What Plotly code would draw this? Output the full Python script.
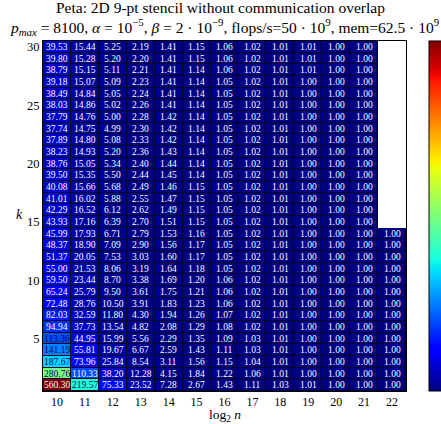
import numpy as np
import plotly.graph_objects as go

# log2 n columns and k rows
log2n = list(range(10, 23))
k_vals = list(range(1, 31))

# Speedup values, one list per log2 n column, ordered k = 30 down to k = 1
c10 = [39.53, 39.80, 38.79, 39.18, 38.49, 38.03, 37.79, 37.74, 37.89, 38.23,
       38.76, 39.50, 40.08, 41.01, 42.29, 43.93, 45.99, 48.37, 51.37, 55.00,
       59.50, 65.24, 72.48, 82.03, 94.94, 113.36, 141.19, 187.67, 280.76, 560.30]
c11 = [15.44, 15.28, 15.15, 15.07, 14.84, 14.86, 14.76, 14.75, 14.80, 14.93,
       15.05, 15.35, 15.66, 16.02, 16.52, 17.16, 17.93, 18.90, 20.05, 21.53,
       23.44, 25.79, 28.76, 32.59, 37.73, 44.95, 55.81, 73.96, 110.33, 219.57]
c12 = [5.25, 5.20, 5.11, 5.09, 5.05, 5.02, 5.00, 4.99, 5.08, 5.20,
       5.34, 5.50, 5.68, 5.88, 6.12, 6.39, 6.71, 7.09, 7.53, 8.06,
       8.70, 9.50, 10.50, 11.80, 13.54, 15.99, 19.67, 25.84, 38.20, 75.33]
c13 = [2.19, 2.20, 2.21, 2.23, 2.24, 2.26, 2.28, 2.30, 2.33, 2.36,
       2.40, 2.44, 2.49, 2.55, 2.62, 2.70, 2.79, 2.90, 3.03, 3.19,
       3.38, 3.61, 3.91, 4.30, 4.82, 5.56, 6.67, 8.54, 12.28, 23.52]
c14 = [1.41, 1.41, 1.41, 1.41, 1.41, 1.41, 1.42, 1.42, 1.42, 1.43,
       1.44, 1.45, 1.46, 1.47, 1.49, 1.51, 1.53, 1.56, 1.60, 1.64,
       1.69, 1.75, 1.83, 1.94, 2.08, 2.29, 2.59, 3.11, 4.15, 7.28]
c15 = [1.15, 1.15, 1.14, 1.14, 1.14, 1.14, 1.14, 1.14, 1.14, 1.14,
       1.14, 1.14, 1.15, 1.15, 1.15, 1.15, 1.16, 1.17, 1.17, 1.18,
       1.20, 1.21, 1.23, 1.26, 1.29, 1.35, 1.43, 1.56, 1.84, 2.67]
c16 = [1.06, 1.06, 1.06, 1.05, 1.05, 1.05, 1.05, 1.05, 1.05, 1.05,
       1.05, 1.05, 1.05, 1.05, 1.05, 1.05, 1.05, 1.05, 1.05, 1.05,
       1.06, 1.06, 1.06, 1.07, 1.08, 1.09, 1.11, 1.15, 1.22, 1.43]
c17 = [1.02, 1.02, 1.02, 1.02, 1.02, 1.02, 1.02, 1.02, 1.02, 1.02,
       1.02, 1.02, 1.02, 1.02, 1.02, 1.02, 1.02, 1.02, 1.02, 1.02,
       1.02, 1.02, 1.02, 1.02, 1.02, 1.03, 1.03, 1.04, 1.06, 1.11]
c18 = [1.01, 1.01, 1.01, 1.01, 1.01, 1.01, 1.01, 1.01, 1.01, 1.01,
       1.01, 1.01, 1.01, 1.01, 1.01, 1.01, 1.01, 1.01, 1.01, 1.01,
       1.01, 1.01, 1.01, 1.01, 1.01, 1.01, 1.01, 1.01, 1.01, 1.03]
c19 = [1.01, 1.01, 1.01, 1.00, 1.00, 1.00, 1.00, 1.00, 1.00, 1.00,
       1.00, 1.00, 1.00, 1.00, 1.00, 1.00, 1.00, 1.00, 1.00, 1.00,
       1.00, 1.00, 1.00, 1.00, 1.00, 1.00, 1.00, 1.00, 1.00, 1.01]
c20 = [1.00] * 30
c21 = [1.00] * 30
c22 = [None] * 16 + [1.00] * 14

columns = [c10, c11, c12, c13, c14, c15, c16, c17, c18, c19, c20, c21, c22]

# z[row k-1][col]
z = np.array([[np.nan if v is None else v for v in col[::-1]] for col in columns],
             dtype=float).T
zmin = np.nanmin(z)
zmax = np.nanmax(z)

# matplotlib-style jet colormap
def jet(t):
    r = np.interp(t, [0, 0.35, 0.66, 0.89, 1], [0, 0, 1, 1, 0.5])
    g = np.interp(t, [0, 0.125, 0.375, 0.64, 0.91, 1], [0, 0, 1, 1, 0, 0])
    b = np.interp(t, [0, 0.11, 0.34, 0.65, 1], [0.5, 1, 1, 0, 0])
    return r, g, b

stops = np.linspace(0, 1, 65)
jet_scale = []
for s in stops:
    r, g, b = jet(s)
    jet_scale.append([float(s), f"rgb({int(round(r*255))},{int(round(g*255))},{int(round(b*255))})"])

# plot area geometry in pixels
W, H = 441, 424
ML, MR, MT, MB = 43, 35, 41, 33
PW, PH = W - ML - MR, H - MT - MB

fig = go.Figure()

# dark underlay showing through the cell gaps as grid lines
mask = np.where(np.isnan(z), np.nan, 1.0)
fig.add_trace(go.Heatmap(
    x=log2n, y=k_vals, z=mask,
    colorscale=[[0, "#05052a"], [1, "#05052a"]], zmin=0, zmax=2,
    showscale=False, hoverinfo="skip",
))

fig.add_trace(go.Heatmap(
    x=log2n, y=k_vals, z=z,
    colorscale=jet_scale, zmin=zmin, zmax=zmax,
    xgap=1, ygap=1,
    colorbar=dict(
        x=(429 - ML) / PW, xanchor="left", xpad=0,
        y=0.5, yanchor="middle", len=1.0, lenmode="fraction", ypad=0,
        thickness=18, outlinewidth=1, outlinecolor="black",
        ticks="", showticklabels=False,
    ),
))

# value labels in each cell
annotations = []
for i, k in enumerate(k_vals):
    for j, n in enumerate(log2n):
        v = z[i, j]
        if np.isnan(v):
            continue
        r, g, b = jet((v - zmin) / (zmax - zmin))
        lum = 0.299 * r + 0.587 * g + 0.114 * b
        color = "#000060" if lum > 0.285 else "white"
        annotations.append(dict(
            x=n, y=k, xref="x", yref="y", text=f"{v:.2f}", showarrow=False,
            font=dict(family="Liberation Serif", size=9.5, color=color),
        ))

# y-axis label, upright
annotations.append(dict(
    x=-(ML - 25) / PW, y=(391 - 214) / PH, xref="paper", yref="paper",
    xanchor="right", yanchor="middle", text="<i>k</i>",
    showarrow=False, font=dict(family="Liberation Serif", size=14, color="black"),
))

# x-axis label
annotations.append(dict(
    x=0.5, y=-(406 - 391) / PH, xref="paper", yref="paper",
    xanchor="center", yanchor="top", text="log<sub>2</sub> <i>n</i>",
    showarrow=False, borderpad=0,
    font=dict(family="Liberation Serif", size=13.5, color="black"),
))

# two-line title
annotations.append(dict(
    x=0.5, xref="paper", xanchor="center", xshift=(W / 2 - (ML + PW / 2)),
    y=1 + (MT - 8) / PH, yref="paper", yanchor="middle",
    text="Peta: 2D 9-pt stencil without communication overlap",
    showarrow=False, font=dict(family="Liberation Serif", size=15.5, color="black"),
))
annotations.append(dict(
    x=0.5, xref="paper", xanchor="center", xshift=(224 - (ML + PW / 2)),
    y=1 + (MT - 27) / PH, yref="paper", yanchor="middle",
    text=("<i>p</i><sub><i>max</i></sub> = 8100, <i>α</i> = 10<sup>−5</sup>, "
          "<i>β</i> = 2 · 10<sup>−9</sup>, flops/s=50 · 10<sup>9</sup>, "
          "mem=62.5 · 10<sup>9</sup>"),
    showarrow=False, font=dict(family="Liberation Serif", size=15.5, color="black"),
))

fig.update_layout(
    width=W, height=H,
    margin=dict(l=ML, r=MR, t=MT, b=MB, autoexpand=False),
    paper_bgcolor="white", plot_bgcolor="white",
    font=dict(family="Liberation Serif", color="black"),
    xaxis=dict(
        range=[9.5, 22.5], tickvals=log2n, showgrid=False, zeroline=False,
        showline=True, mirror=True, linecolor="black", linewidth=1,
        ticks="", tickfont=dict(size=12), ticklabelstandoff=0,
    ),
    yaxis=dict(
        range=[0.5, 30.5], tickvals=[5, 10, 15, 20, 25, 30], showgrid=False,
        zeroline=False, showline=True, mirror=True, linecolor="black",
        linewidth=1, ticks="", tickfont=dict(size=12.5),
    ),
    annotations=annotations,
)

fig.write_html("out.html")
